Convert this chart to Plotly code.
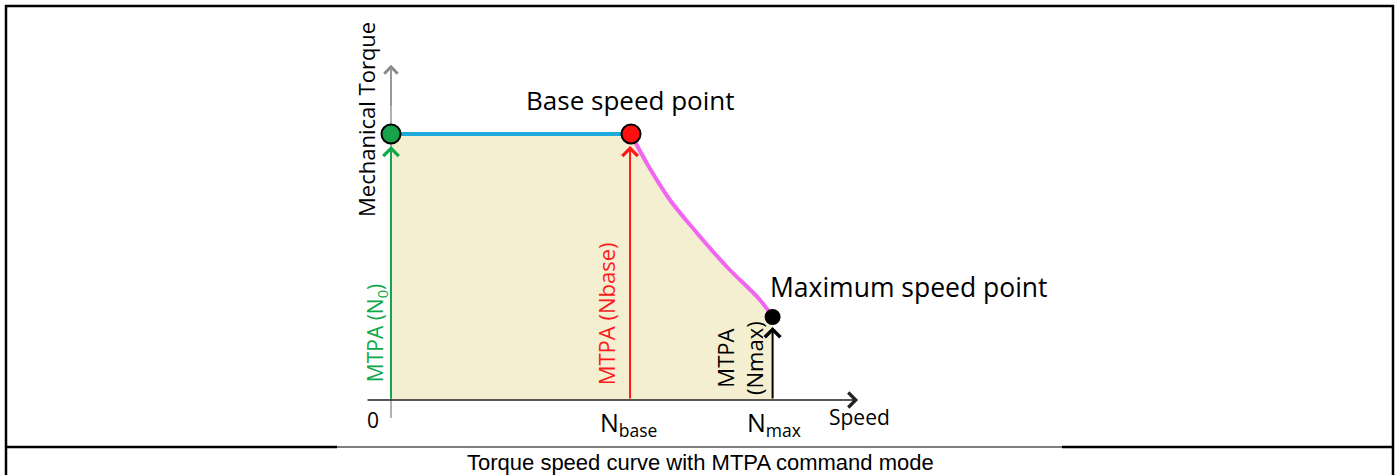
import plotly.graph_objects as go

# speeds in units of base speed, torque in units of rated torque
key_speed = [0.0, 1.0, 1.59]          # N0, Nbase, Nmax
key_torque = [1.0, 1.0, 0.312]
key_colors = ["#17a34a", "#ff1010", "#000000"]
key_sizes = [19, 19, 14]

# field weakening part of the curve
curve_speed = [1.0, 1.075, 1.1625, 1.275, 1.4, 1.5375, 1.59]
curve_torque = [1.0, 0.876, 0.752, 0.628, 0.5, 0.376, 0.312]

# MTPA command arrows: speed, torque reached by the arrow tip, colour
arrow_speed = [0.0, 0.996, 1.59]
arrow_tip = [0.955, 0.955, 0.274]
arrow_colors = ["#12a84a", "#ff1a1a", "#000000"]

GREEN = "#12a84a"
RED = "#ff1a1a"
BLUE = "#1eaadc"
MAGENTA = "#f066f0"
BEIGE = "#f5efd2"
FONT = "Open Sans"

fig = go.Figure()

# shaded operating area: constant torque part, then field weakening part
fig.add_trace(
    go.Scatter(
        x=key_speed[:2], y=key_torque[:2], mode="lines",
        line=dict(width=0), fill="tozeroy", fillcolor=BEIGE, hoverinfo="skip",
    )
)
fig.add_trace(
    go.Scatter(
        x=curve_speed, y=curve_torque, mode="lines",
        line=dict(width=0, shape="spline"), fill="tozeroy", fillcolor=BEIGE, hoverinfo="skip",
    )
)

# y axis (grey)
fig.add_trace(
    go.Scatter(
        x=[0, 0], y=[-0.068, 1.24], mode="lines",
        line=dict(color="#8a8a8a", width=1.3), hoverinfo="skip",
    )
)

# constant torque region
fig.add_trace(
    go.Scatter(
        x=key_speed[:2], y=key_torque[:2], mode="lines",
        line=dict(color=BLUE, width=4), hoverinfo="skip",
    )
)

# field weakening region
fig.add_trace(
    go.Scatter(
        x=curve_speed, y=curve_torque, mode="lines",
        line=dict(color=MAGENTA, width=4, shape="spline"), hoverinfo="skip",
    )
)

# key points
fig.add_trace(
    go.Scatter(
        x=key_speed, y=key_torque, mode="markers",
        marker=dict(color=key_colors, size=key_sizes, opacity=1,
                    line=dict(color="black", width=2)),
        hoverinfo="skip",
    )
)

annotations = []

# MTPA arrows
for xs, tip, col in zip(arrow_speed, arrow_tip, arrow_colors):
    annotations.append(dict(
        x=xs, y=tip, ax=xs, ay=0, xref="x", yref="y", axref="x", ayref="y",
        text="", showarrow=True, arrowhead=4, arrowsize=1.5, arrowwidth=2, arrowcolor=col,
    ))

# axis arrows
annotations.append(dict(
    x=0, y=1.26, ax=0, ay=1.1, xref="x", yref="y", axref="x", ayref="y",
    text="", showarrow=True, arrowhead=4, arrowsize=2, arrowwidth=1.3, arrowcolor="#8a8a8a",
))
annotations.append(dict(
    x=1.946, y=0, ax=-0.104, ay=0, xref="x", yref="y", axref="x", ayref="y",
    text="", showarrow=True, arrowhead=4, arrowsize=1.8, arrowwidth=1.6, arrowcolor="#222222",
))


def label(text, x, y, size, color="black", angle=0, xanchor="center", font=FONT):
    annotations.append(dict(
        x=x, y=y, xref="x", yref="y", text=text, showarrow=False, textangle=angle,
        xanchor=xanchor, yanchor="middle", align="center",
        font=dict(family=font, size=size, color=color),
    ))


label("Mechanical Torque", -0.104, 1.053, 22, angle=-90)
label("Base speed point", 0.996, 1.128, 26)
label("Maximum speed point", 1.571, 0.425, 26.5, xanchor="left")
label("MTPA (N<sub>0</sub>)", -0.064, 0.25, 21, color=GREEN, angle=-90)
label("MTPA (Nbase)", 0.897, 0.323, 22, color=RED, angle=-90)
label("MTPA<br>(Nmax)", 1.454, 0.158, 22, angle=-90)
label("0", -0.075, -0.075, 21)
label("N<sub>base</sub>", 0.863, -0.09, 25, xanchor="left")
label("N<sub>max</sub>", 1.475, -0.09, 25, xanchor="left")
label("Speed", 1.95, -0.064, 21)

# caption
annotations.append(dict(
    x=0.5, y=1 - 462 / 475, xref="paper", yref="paper", text="Torque speed curve with MTPA command mode",
    showarrow=False, xanchor="center", yanchor="middle",
    font=dict(family="Liberation Sans", size=22, color="black"),
))

W, H = 1400, 475


def hline(x0, x1, y, w):
    return dict(type="line", xref="paper", yref="paper", x0=x0 / W, x1=x1 / W,
                y0=1 - y / H, y1=1 - y / H, line=dict(color="black", width=w))


def vline(x, y0, y1, w):
    return dict(type="line", xref="paper", yref="paper", x0=x / W, x1=x / W,
                y0=1 - y0 / H, y1=1 - y1 / H, line=dict(color="black", width=w))


shapes = [
    hline(5, 1394, 6, 2.5),
    vline(6, 5, 475, 2.5),
    vline(1393, 5, 475, 2.5),
    hline(5, 337, 447, 2.5),
    hline(337, 1062, 447, 1.2),
    hline(1062, 1394, 447, 2.5),
]

fig.update_layout(
    width=W,
    height=H,
    margin=dict(l=0, r=0, t=0, b=0),
    paper_bgcolor="white",
    plot_bgcolor="white",
    showlegend=False,
    annotations=annotations,
    shapes=shapes,
    xaxis=dict(range=[-391 / 240, (W - 391) / 240], visible=False, fixedrange=True),
    yaxis=dict(range=[(400 - H) / 266, 400 / 266], visible=False, fixedrange=True),
)

fig.write_html("out.html", config={"displayModeBar": False},
               post_script="document.body.style.margin='0';")
